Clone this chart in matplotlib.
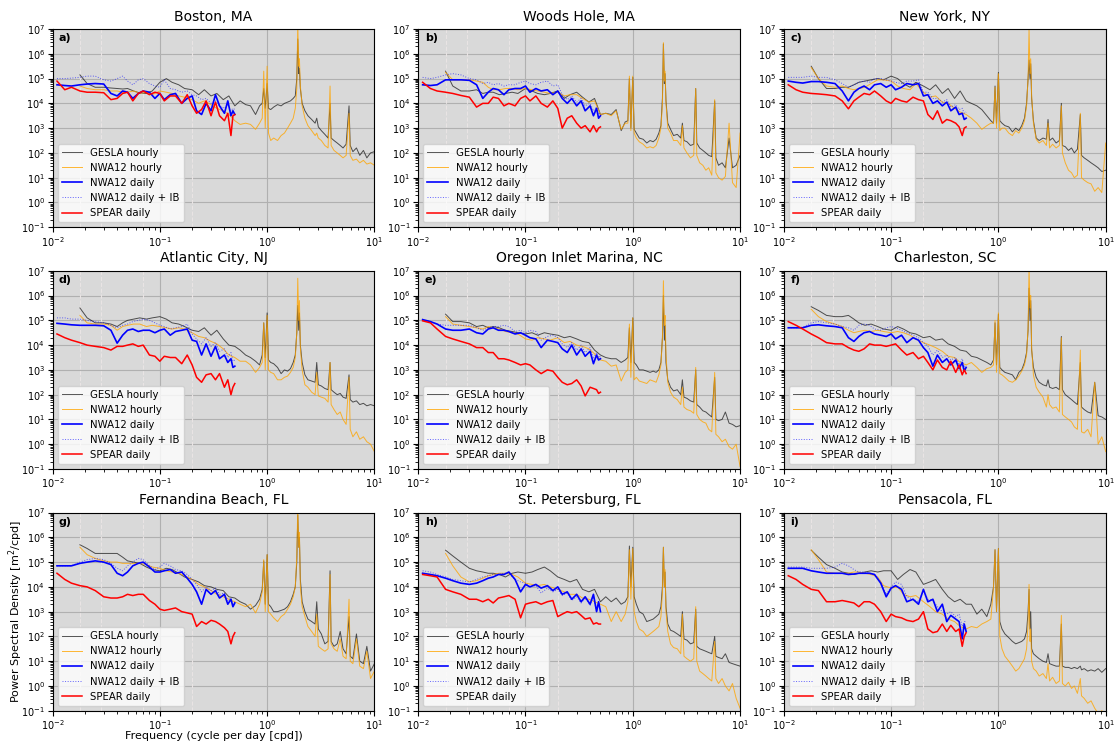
import numpy as np
import matplotlib.pyplot as plt
from matplotlib.ticker import LogLocator

# frequencies (cpd) for the hourly records and for the daily records
freq_hourly = [
    0.018, 0.021, 0.025, 0.03, 0.035, 0.04, 0.045, 0.05, 0.057, 0.065, 0.075, 0.085, 0.1, 0.115, 0.13,
    0.15, 0.17, 0.2, 0.23, 0.26, 0.3, 0.34, 0.39, 0.44, 0.5, 0.56, 0.63, 0.7, 0.78, 0.85,
    0.9, 0.93, 0.96, 1.0, 1.03, 1.08, 1.15, 1.25, 1.35, 1.45, 1.55, 1.65, 1.75, 1.83, 1.89,
    1.93, 1.97, 2.0, 2.04, 2.12, 2.25, 2.4, 2.6, 2.8, 2.9, 3.0, 3.2, 3.45, 3.7, 3.86,
    3.95, 4.2, 4.5, 4.8, 5.1, 5.45, 5.8, 5.95, 6.3, 6.8, 7.3, 7.9, 8.5, 9.2, 10.0]
freq_daily = [
    0.011, 0.013, 0.015, 0.018, 0.021, 0.025, 0.03, 0.035, 0.04, 0.045, 0.05, 0.056, 0.063, 0.07, 0.08, 0.09, 0.1,
    0.11, 0.125, 0.14, 0.16, 0.18, 0.2, 0.22, 0.245, 0.27, 0.3, 0.33, 0.36, 0.4, 0.43, 0.46, 0.48, 0.5]

# reference periods marked with dashed lines (cpd)
marked_freqs = [0.018, 0.0285, 0.07, 0.2]

stations = ['Boston, MA', 'Woods Hole, MA', 'New York, NY',
            'Atlantic City, NJ', 'Oregon Inlet Marina, NC', 'Charleston, SC',
            'Fernandina Beach, FL', 'St. Petersburg, FL', 'Pensacola, FL']
letters = ['a)', 'b)', 'c)', 'd)', 'e)', 'f)', 'g)', 'h)', 'i)']

# all PSD values below are log10(m^2/cpd)
# --- Boston
a_gesla = [
    5.15, 4.8, 4.65, 4.65, 4.62, 4.6, 4.58, 4.6, 4.5, 4.42, 4.4, 4.5, 4.85, 5.0, 4.85,
    4.75, 4.6, 4.55, 4.35, 4.55, 4.3, 4.4, 4.15, 4.3, 3.9, 4.1, 3.95, 3.9, 3.55, 3.9,
    4.0, 4.6, 3.8, 4.8, 3.8, 3.75, 3.85, 3.95, 3.9, 4.0, 4.05, 4.1, 4.2, 4.3, 5.0,
    6.6, 5.2, 5.4, 4.6, 4.0, 3.7, 3.5, 3.35, 3.2, 3.4, 3.05, 2.9, 2.75, 2.6, 4.0,
    2.6, 2.5, 2.4, 2.3, 2.2, 2.35, 3.9, 2.3, 2.05, 2.2, 1.9, 2.1, 1.8, 2.0, 2.05]
a_nwa_h = [
    4.7, 4.6, 4.55, 4.55, 4.5, 4.5, 4.45, 4.45, 4.5, 4.4, 4.45, 4.35, 4.5, 4.45, 4.4,
    4.3, 4.25, 4.15, 4.0, 4.1, 3.95, 3.8, 3.7, 3.55, 3.3, 3.15, 3.2, 3.15, 2.95, 3.2,
    3.4, 5.3, 3.0, 5.5, 2.8, 2.5, 2.6, 2.5, 2.7, 2.8, 3.0, 3.2, 3.4, 3.8, 4.6,
    7.2, 5.5, 5.8, 4.7, 3.9, 3.4, 3.1, 2.9, 2.7, 2.8, 2.6, 2.5, 2.3, 2.2, 4.7,
    2.3, 2.1, 2.0, 1.9, 1.8, 1.9, 3.6, 1.9, 1.7, 1.75, 1.6, 1.7, 1.55, 1.6, 1.5]
a_nwa_d = [
    4.75, 4.72, 4.7, 4.75, 4.78, 4.8, 4.78, 4.4, 4.3, 4.5, 4.45, 4.2, 4.4, 4.5, 4.45, 4.2, 4.4,
    4.15, 4.35, 4.4, 4.0, 4.2, 4.3, 3.7, 3.55, 4.0, 3.7, 4.35, 3.9, 3.6, 4.1, 3.5, 3.7, 3.55]
a_nwa_ib = [
    5.0, 5.0, 5.02, 5.05, 5.1, 5.1, 4.95, 4.9, 5.0, 5.1, 4.9, 4.75, 4.95, 5.0, 4.8, 4.7, 4.65,
    4.95, 4.6, 4.55, 4.45, 4.5, 4.35, 4.3, 4.15, 4.2, 4.0, 4.1, 3.9, 3.8, 3.95, 3.7, 3.8, 3.75]
a_spear = [
    4.9, 4.55, 4.65, 4.5, 4.45, 4.45, 4.43, 4.15, 4.2, 4.4, 4.45, 4.1, 4.4, 4.5, 4.35, 4.45, 4.4,
    4.1, 4.3, 4.3, 4.0, 4.35, 3.9, 3.6, 3.75, 4.1, 3.5, 4.05, 3.5, 3.3, 3.6, 2.7, 3.5, 3.55]

# --- Woods Hole
b_gesla = [
    5.3, 4.7, 4.5, 4.5, 4.55, 4.4, 4.45, 4.45, 4.35, 4.4, 4.45, 4.4, 4.6, 4.5, 4.4,
    4.35, 4.4, 4.5, 4.2, 4.35, 4.45, 4.25, 4.05, 4.2, 3.55, 3.6, 3.55, 3.75, 2.9, 3.25,
    3.3, 5.0, 3.0, 5.05, 2.95, 2.8, 2.6, 2.55, 2.4, 2.5, 2.45, 2.55, 2.8, 3.1, 4.2,
    6.4, 4.8, 5.2, 4.1, 3.2, 2.95, 2.7, 2.75, 2.6, 3.2, 2.5, 2.45, 2.3, 2.35, 4.6,
    2.4, 2.2, 2.1, 2.0, 1.9, 1.85, 4.1, 1.8, 1.5, 1.6, 1.4, 2.6, 1.4, 1.5, 1.9]
b_nwa_h = [
    5.25, 4.95, 4.95, 4.95, 4.9, 4.85, 4.65, 4.55, 4.55, 4.6, 4.6, 4.55, 4.6, 4.55, 4.5,
    4.45, 4.4, 4.45, 4.3, 4.35, 4.35, 4.2, 4.05, 4.1, 3.55, 3.6, 3.5, 3.7, 2.95, 3.2,
    3.2, 5.1, 2.9, 5.1, 2.8, 2.6, 2.45, 2.35, 2.2, 2.25, 2.2, 2.3, 2.6, 3.0, 4.0,
    6.45, 4.9, 5.3, 4.0, 3.0, 2.8, 2.5, 2.5, 2.3, 3.1, 2.2, 2.0, 1.8, 1.9, 4.6,
    1.9, 1.6, 1.5, 1.3, 1.4, 1.1, 4.15, 1.2, 1.0, 0.9, 1.05, 3.2, 0.8, 0.6, 2.8]
b_nwa_d = [
    4.75, 4.72, 4.75, 4.95, 4.95, 4.95, 4.93, 4.75, 4.2, 4.45, 4.6, 4.55, 4.35, 4.55, 4.6, 4.6, 4.7,
    4.45, 4.6, 4.5, 4.55, 4.35, 4.5, 4.2, 4.0, 4.2, 3.9, 4.1, 3.7, 3.9, 3.5, 3.8, 3.4, 3.5]
b_nwa_ib = [
    5.05, 5.0, 5.05, 5.15, 5.2, 5.15, 5.0, 4.95, 4.8, 4.85, 4.75, 4.8, 4.7, 4.75, 4.75, 4.85, 4.9,
    4.8, 4.75, 4.85, 4.9, 4.7, 4.75, 4.35, 4.15, 4.3, 4.05, 4.2, 3.9, 4.0, 3.7, 3.85, 3.55, 3.6]
b_spear = [
    4.85, 4.6, 4.5, 4.45, 4.4, 4.32, 4.25, 3.85, 4.0, 4.0, 4.25, 4.2, 3.9, 4.0, 3.9, 4.2, 4.3,
    4.1, 4.3, 4.0, 3.85, 4.1, 3.8, 3.0, 3.4, 3.5, 3.2, 3.0, 3.1, 2.85, 3.1, 2.85, 3.0, 3.05]

# --- New York
c_gesla = [
    5.5, 5.0, 4.6, 4.6, 4.65, 4.65, 4.75, 4.85, 4.9, 4.95, 5.0, 4.95, 5.1, 5.0, 4.8,
    4.65, 4.85, 4.7, 4.55, 4.75, 4.4, 4.6, 4.2, 4.5, 4.1, 4.0, 3.9, 3.75, 3.5, 3.3,
    3.2, 4.7, 3.2, 5.25, 3.3, 3.2, 3.1, 3.05, 2.85, 3.0, 2.9, 3.1, 3.4, 4.0, 5.0,
    5.75, 5.0, 5.6, 4.2, 3.3, 2.6, 2.5, 2.6, 2.55, 3.35, 2.5, 2.6, 2.4, 2.5, 4.0,
    2.3, 2.25, 2.1, 2.2, 2.0, 2.15, 3.55, 1.9, 1.8, 1.7, 1.6, 1.5, 1.4, 1.25, 1.3]
c_nwa_h = [
    5.45, 5.0, 4.7, 4.65, 4.7, 4.6, 4.55, 4.6, 4.65, 4.8, 4.95, 4.95, 4.9, 4.7, 4.6,
    4.55, 4.8, 4.45, 4.25, 4.3, 4.05, 4.0, 3.8, 3.65, 3.55, 3.4, 3.2, 2.95, 3.1, 3.2,
    3.2, 4.65, 3.0, 5.2, 2.9, 3.0, 3.0, 2.8, 2.7, 2.9, 2.8, 3.0, 3.3, 3.9, 5.0,
    7.0, 5.2, 5.8, 4.3, 3.2, 2.55, 2.4, 2.5, 2.3, 3.2, 2.2, 2.35, 2.2, 2.3, 3.9,
    2.0, 1.6, 1.3, 1.2, 1.0, 1.1, 3.6, 1.0, 0.9, 0.8, 0.75, 0.45, 0.6, 0.4, 2.4]
c_nwa_d = [
    4.9, 4.85, 4.82, 4.88, 4.88, 4.85, 4.8, 4.5, 4.1, 4.45, 4.6, 4.7, 4.55, 4.75, 4.8, 4.65, 4.75,
    4.55, 4.65, 4.8, 4.75, 4.8, 4.3, 4.35, 4.0, 4.1, 3.9, 4.05, 3.7, 3.85, 3.55, 3.6, 3.35, 3.4]
c_nwa_ib = [
    5.05, 5.05, 5.05, 5.1, 5.05, 5.05, 4.95, 4.8, 4.65, 4.75, 4.85, 4.9, 4.85, 5.0, 5.0, 4.95, 4.9,
    4.85, 4.8, 4.9, 4.9, 4.95, 4.45, 4.45, 4.2, 4.2, 4.05, 4.15, 3.85, 3.95, 3.75, 3.8, 3.6, 3.65]
c_spear = [
    4.75, 4.55, 4.45, 4.4, 4.38, 4.35, 4.3, 4.1, 3.78, 4.1, 4.25, 4.4, 4.35, 4.5, 4.3, 4.1, 4.0,
    4.2, 4.1, 4.05, 4.25, 4.15, 4.1, 3.55, 3.35, 3.7, 3.2, 3.35, 3.3, 3.2, 3.05, 2.7, 3.0, 3.05]

# --- Atlantic City
d_gesla = [
    5.5, 5.1, 4.9, 4.9, 4.85, 4.75, 4.9, 5.0, 5.05, 5.1, 5.05, 5.1, 5.15, 5.05, 4.9,
    4.85, 4.75, 4.6, 4.55, 4.7, 4.4, 4.6, 4.25, 4.0, 3.95, 3.8, 3.6, 3.5, 3.35, 3.2,
    3.6, 4.9, 3.5, 5.3, 3.4, 3.3, 3.25, 3.1, 2.85, 3.0, 2.95, 3.05, 3.3, 3.6, 4.5,
    5.6, 4.6, 5.3, 4.0, 3.3, 2.8, 2.6, 2.55, 2.5, 3.3, 2.4, 2.35, 2.25, 2.2, 3.3,
    2.2, 2.1, 2.0, 2.05, 1.9, 1.85, 2.8, 1.8, 1.7, 1.75, 1.6, 1.65, 1.55, 1.6, 1.55]
d_nwa_h = [
    5.2, 4.9, 4.85, 4.85, 4.8, 4.6, 4.75, 4.8, 4.85, 4.85, 4.75, 4.8, 4.75, 4.7, 4.65,
    4.7, 4.65, 4.5, 4.35, 4.3, 4.15, 4.05, 3.85, 3.6, 3.5, 3.35, 3.35, 3.2, 2.9, 3.1,
    3.3, 4.9, 3.0, 5.2, 3.0, 2.9, 2.85, 2.6, 2.6, 2.7, 2.75, 2.9, 3.1, 3.5, 4.5,
    6.7, 5.0, 5.8, 3.9, 3.0, 2.4, 2.3, 2.1, 2.0, 2.9, 1.95, 1.9, 1.85, 1.7, 3.3,
    1.6, 1.4, 1.2, 1.3, 1.0, 0.8, 2.7, 0.6, 0.3, 0.5, 0.2, 0.3, 0.1, 0.0, -0.3]
d_nwa_d = [
    4.88, 4.85, 4.82, 4.8, 4.8, 4.8, 4.78, 4.6, 4.08, 4.4, 4.6, 4.65, 4.55, 4.6, 4.6, 4.5, 4.6,
    4.65, 4.4, 4.55, 4.6, 4.65, 4.2, 4.15, 3.6, 4.05, 3.55, 3.95, 3.45, 3.6, 3.3, 3.45, 3.1, 3.15]
d_nwa_ib = [
    5.1, 5.1, 5.05, 5.05, 5.0, 4.95, 4.9, 4.8, 4.7, 4.8, 4.85, 4.95, 5.0, 5.05, 5.0, 4.9, 4.8,
    4.75, 4.65, 4.7, 4.75, 4.85, 4.45, 4.25, 4.05, 4.3, 3.95, 4.1, 3.75, 3.85, 3.5, 3.7, 3.35, 3.4]
d_spear = [
    4.45, 4.3, 4.2, 4.1, 4.0, 3.95, 3.9, 3.8, 3.95, 3.95, 4.0, 4.05, 3.95, 4.0, 3.6, 3.55, 3.35,
    3.55, 3.5, 3.5, 3.25, 3.6, 3.2, 2.7, 2.5, 2.8, 2.85, 2.6, 2.85, 2.3, 2.6, 2.0, 2.3, 2.45]

# --- Oregon Inlet Marina
e_gesla = [
    5.25, 4.95, 4.95, 4.9, 4.75, 4.8, 4.7, 4.75, 4.7, 4.6, 4.55, 4.5, 4.45, 4.5, 4.4,
    4.5, 4.45, 4.4, 4.3, 4.35, 4.25, 4.15, 4.1, 3.8, 3.6, 3.5, 3.45, 3.45, 3.3, 3.4,
    3.5, 4.7, 3.3, 5.1, 3.3, 3.2, 3.0, 3.0, 2.95, 2.9, 2.95, 2.9, 3.0, 3.3, 4.3,
    6.0, 4.2, 4.8, 3.3, 2.6, 2.3, 2.15, 2.2, 2.0, 2.6, 1.9, 1.85, 1.75, 1.7, 3.0,
    1.6, 1.5, 1.35, 1.3, 1.2, 1.1, 2.7, 1.0, 0.95, 1.0, 1.3, 0.85, 0.8, 0.7, 0.75]
e_nwa_h = [
    5.15, 4.85, 4.8, 4.75, 4.7, 4.65, 4.75, 4.7, 4.65, 4.55, 4.5, 4.45, 4.25, 4.2, 4.3,
    4.25, 4.2, 4.3, 4.1, 4.15, 4.0, 3.95, 3.85, 3.65, 3.4, 3.35, 3.15, 3.2, 2.55, 2.9,
    3.0, 4.85, 2.7, 5.1, 2.6, 2.7, 2.55, 2.5, 2.45, 2.6, 2.55, 2.5, 2.8, 3.2, 4.3,
    6.6, 4.8, 5.2, 3.6, 2.5, 2.1, 1.9, 1.8, 1.6, 2.3, 1.5, 1.4, 1.35, 1.25, 3.1,
    1.2, 1.0, 0.9, 0.85, 0.6, 0.5, 2.9, 0.4, 0.3, 0.1, 0.2, -0.1, -0.2, 0.0, -0.9]
e_nwa_d = [
    5.03, 4.95, 4.85, 4.65, 4.6, 4.6, 4.65, 4.5, 4.45, 4.65, 4.7, 4.6, 4.6, 4.55, 4.45, 4.5, 4.4,
    4.3, 4.25, 3.9, 4.2, 4.15, 4.1, 3.85, 3.7, 4.0, 3.6, 3.85, 3.55, 3.75, 3.25, 3.6, 3.4, 3.45]
e_nwa_ib = [
    5.02, 4.95, 4.85, 4.8, 4.8, 4.8, 4.8, 4.7, 4.6, 4.7, 4.75, 4.75, 4.8, 4.75, 4.55, 4.6, 4.5,
    4.6, 4.55, 4.2, 4.35, 4.4, 4.3, 4.05, 3.9, 4.1, 3.8, 4.0, 3.7, 3.9, 3.45, 3.7, 3.5, 3.55]
e_spear = [
    4.98, 4.9, 4.65, 4.35, 4.25, 4.15, 4.05, 3.9, 3.9, 3.7, 3.7, 3.45, 3.45, 3.4, 3.3, 3.2, 3.25,
    3.2, 3.0, 2.85, 3.0, 2.95, 2.7, 2.5, 2.4, 2.45, 2.6, 2.35, 1.95, 2.3, 2.25, 2.2, 2.05, 2.1]

# --- Charleston
f_gesla = [
    5.55, 5.4, 5.2, 5.15, 5.15, 5.2, 5.05, 4.9, 4.8, 4.85, 4.75, 4.65, 4.6, 4.75, 4.65,
    4.5, 4.45, 4.3, 4.35, 4.2, 4.25, 4.05, 3.95, 3.8, 3.75, 3.55, 3.5, 3.4, 3.3, 3.2,
    3.4, 4.9, 3.2, 5.25, 3.1, 3.0, 2.9, 2.85, 2.8, 2.6, 2.9, 3.0, 3.3, 3.7, 4.6,
    6.3, 5.0, 5.8, 3.8, 3.1, 2.7, 2.5, 2.4, 2.35, 2.6, 2.3, 2.25, 2.3, 2.2, 4.35,
    2.2, 2.0, 1.9, 1.8, 1.7, 1.6, 3.3, 1.5, 1.4, 1.3, 1.25, 2.5, 1.15, 1.1, 1.0]
f_nwa_h = [
    5.45, 5.15, 4.95, 4.85, 4.75, 4.6, 4.5, 4.55, 4.6, 4.55, 4.6, 4.55, 4.5, 4.55, 4.5,
    4.4, 4.25, 4.1, 4.0, 3.9, 3.75, 3.55, 3.5, 3.3, 3.2, 3.3, 3.1, 2.9, 3.05, 3.1,
    3.2, 5.0, 2.9, 5.3, 2.85, 2.8, 2.7, 2.55, 2.5, 2.6, 2.75, 2.95, 3.2, 3.6, 4.7,
    7.1, 5.5, 6.0, 3.9, 2.8, 2.3, 2.1, 1.9, 1.5, 2.0, 1.6, 1.45, 1.5, 1.3, 4.3,
    1.2, 1.1, 1.0, 0.9, 0.7, 0.6, 3.8, 0.5, 0.45, 0.6, 0.3, 2.5, 0.0, 0.3, -0.3]
f_nwa_d = [
    4.7, 4.7, 4.7, 4.8, 4.82, 4.78, 4.75, 4.7, 4.3, 4.15, 4.35, 4.5, 4.55, 4.45, 4.4, 4.35, 4.45,
    4.25, 4.4, 4.1, 4.3, 4.2, 3.9, 3.7, 3.15, 3.6, 3.3, 3.45, 3.2, 3.4, 3.05, 3.3, 2.95, 3.1]
f_nwa_ib = [
    4.7, 4.7, 4.72, 4.9, 4.95, 4.9, 4.85, 4.75, 4.7, 4.6, 4.8, 4.85, 4.8, 4.65, 4.6, 4.7, 4.75,
    4.7, 4.6, 4.5, 4.4, 4.3, 4.1, 3.95, 3.6, 3.8, 3.5, 3.6, 3.4, 3.5, 3.2, 3.45, 3.1, 3.2]
f_spear = [
    4.95, 4.8, 4.65, 4.45, 4.3, 4.1, 4.05, 4.05, 3.9, 3.8, 3.75, 3.85, 4.05, 4.0, 4.0, 3.95, 4.0,
    4.05, 3.8, 3.6, 3.7, 3.45, 3.55, 3.3, 3.0, 3.4, 3.1, 3.0, 3.35, 2.9, 3.2, 2.8, 3.0, 2.85]

# --- Fernandina Beach
g_gesla = [
    5.7, 5.55, 5.35, 5.35, 5.35, 5.35, 5.2, 5.05, 5.0, 4.95, 4.8, 4.7, 4.65, 4.75, 4.7,
    4.55, 4.4, 4.3, 4.2, 4.05, 4.0, 3.9, 3.85, 3.6, 3.55, 3.4, 3.3, 3.1, 3.25, 3.5,
    3.9, 5.05, 3.3, 5.3, 3.3, 3.2, 3.0, 3.0, 3.05, 3.1, 3.2, 3.4, 3.7, 4.0, 5.0,
    6.9, 5.6, 6.0, 4.3, 3.4, 3.0, 2.7, 2.6, 2.5, 3.4, 2.3, 2.1, 1.7, 1.8, 4.65,
    1.8, 1.6, 1.7, 2.2, 1.5, 1.3, 2.8, 1.2, 1.1, 2.1, 1.0, 0.9, 1.6, 0.6, 0.9]
g_nwa_h = [
    5.6, 5.3, 5.15, 5.05, 5.0, 5.0, 4.95, 4.95, 4.95, 4.95, 4.9, 4.8, 4.75, 4.65, 4.6,
    4.55, 4.45, 4.3, 4.1, 4.0, 3.85, 3.7, 3.6, 3.5, 3.4, 3.3, 3.2, 3.3, 2.95, 3.3,
    3.8, 5.1, 3.0, 5.3, 3.0, 2.9, 2.75, 2.6, 2.8, 2.9, 3.1, 3.3, 3.6, 4.0, 5.2,
    7.2, 5.6, 6.2, 4.0, 3.2, 2.8, 2.4, 2.2, 2.0, 2.9, 1.6, 1.5, 1.4, 1.5, 4.5,
    1.7, 1.5, 1.4, 1.9, 1.2, 1.1, 3.5, 1.0, 0.9, 1.9, 0.8, 0.7, 1.4, 0.3, 0.6]
g_nwa_d = [
    4.85, 4.85, 4.85, 4.95, 5.0, 5.05, 5.0, 4.9, 4.55, 4.45, 4.6, 4.85, 4.95, 5.0, 4.8, 4.6, 4.6,
    4.65, 4.7, 4.55, 4.6, 4.35, 4.1, 3.8, 3.3, 3.9, 3.7, 3.85, 3.55, 3.7, 3.3, 3.5, 3.2, 3.35]
g_nwa_ib = [
    4.85, 4.85, 4.85, 5.0, 5.1, 5.15, 5.1, 4.95, 4.75, 4.65, 4.85, 5.0, 5.15, 5.1, 4.85, 4.7, 4.8,
    4.95, 4.85, 4.7, 4.65, 4.5, 4.3, 4.1, 3.8, 4.0, 3.85, 3.95, 3.7, 3.75, 3.45, 3.55, 3.3, 3.4]
g_spear = [
    4.55, 4.3, 4.15, 4.05, 4.0, 3.85, 3.6, 3.55, 3.55, 3.6, 3.7, 3.65, 3.7, 3.7, 3.45, 3.3, 3.1,
    3.05, 3.1, 3.15, 3.0, 2.95, 2.9, 2.4, 2.6, 2.5, 2.65, 2.6, 2.5, 2.35, 2.2, 1.7, 2.0, 2.15]

# --- St. Petersburg
h_gesla = [
    5.48, 5.25, 5.0, 4.75, 4.65, 4.6, 4.55, 4.55, 4.5, 4.4, 4.55, 4.6, 4.55, 4.6, 4.7,
    4.8, 4.65, 4.4, 4.3, 4.2, 4.3, 3.9, 3.8, 3.9, 3.4, 3.6, 3.4, 3.55, 3.3, 3.4,
    3.6, 5.65, 4.0, 5.6, 3.6, 3.3, 3.0, 2.9, 2.6, 2.65, 2.7, 2.8, 2.9, 3.2, 4.0,
    5.6, 4.0, 4.6, 3.2, 2.5, 2.25, 2.2, 2.1, 2.0, 3.0, 1.9, 1.85, 1.7, 1.75, 3.1,
    1.6, 1.5, 1.45, 1.4, 1.35, 1.3, 2.0, 1.2, 1.15, 1.1, 1.3, 0.95, 0.9, 0.85, 0.8]
h_nwa_h = [
    5.35, 4.85, 4.4, 4.2, 4.25, 4.35, 4.45, 4.5, 4.55, 4.55, 4.5, 4.4, 4.15, 4.1, 4.05,
    4.1, 4.0, 3.9, 3.8, 3.7, 3.7, 3.55, 3.5, 3.4, 3.3, 3.2, 2.6, 3.0, 2.6, 2.9,
    3.4, 5.5, 3.5, 5.55, 3.0, 2.6, 2.3, 2.2, 2.0, 2.1, 2.2, 2.3, 2.4, 2.8, 3.8,
    5.6, 4.0, 4.7, 3.0, 2.2, 1.7, 1.55, 1.5, 1.3, 2.9, 1.2, 1.1, 1.0, 1.1, 3.2,
    1.0, 0.6, 0.5, 0.4, 0.3, 0.2, 1.8, 0.3, 0.1, 0.3, 0.0, -0.2, 0.1, -0.5, -0.9]
h_nwa_d = [
    4.55, 4.5, 4.45, 4.35, 4.25, 4.15, 4.1, 4.15, 4.25, 4.35, 4.4, 4.5, 4.5, 4.6, 4.3, 3.8, 4.1,
    4.0, 4.1, 3.95, 4.05, 3.85, 4.0, 3.7, 3.8, 3.5, 3.7, 3.4, 3.6, 3.3, 3.7, 3.0, 3.4, 3.0]
h_nwa_ib = [
    4.65, 4.6, 4.5, 4.4, 4.3, 4.25, 4.2, 4.3, 4.4, 4.45, 4.5, 4.5, 4.55, 4.55, 4.3, 4.2, 4.15,
    4.0, 4.05, 3.75, 3.95, 3.8, 3.9, 3.65, 3.75, 3.45, 3.6, 3.35, 3.55, 3.25, 3.6, 3.0, 3.3, 3.0]
h_spear = [
    4.5, 4.45, 4.4, 3.9, 3.8, 3.7, 3.5, 3.5, 3.4, 3.5, 3.35, 3.55, 3.6, 3.65, 3.5, 2.75, 3.3,
    3.35, 3.4, 3.3, 3.4, 3.45, 2.8, 2.9, 3.0, 2.95, 3.0, 2.85, 2.7, 2.75, 2.5, 2.55, 2.5, 2.5]

# --- Pensacola
i_gesla = [
    5.48, 5.2, 4.9, 4.75, 4.6, 4.55, 4.5, 4.55, 4.6, 4.65, 4.6, 4.65, 4.65, 4.3, 4.5,
    4.7, 4.6, 4.1, 4.2, 4.3, 3.9, 3.6, 3.4, 3.5, 3.3, 3.3, 2.9, 3.1, 2.8, 3.3,
    4.0, 5.5, 3.0, 5.55, 2.6, 2.3, 2.1, 1.95, 1.8, 1.7, 1.75, 1.8, 1.9, 2.2, 3.0,
    3.9, 2.3, 3.0, 1.5, 1.3, 1.2, 1.1, 1.0, 0.95, 1.3, 0.9, 0.85, 0.8, 0.8, 2.5,
    0.8, 0.75, 0.75, 0.7, 0.75, 0.7, 0.8, 0.65, 0.7, 0.6, 0.65, 0.6, 0.7, 0.55, 0.7]
i_nwa_h = [
    5.5, 5.1, 4.6, 4.55, 4.55, 4.55, 4.6, 4.6, 4.55, 4.5, 4.4, 4.05, 3.95, 4.0, 3.7,
    3.6, 3.65, 3.4, 3.2, 3.0, 2.9, 2.7, 2.6, 2.4, 2.3, 2.4, 2.35, 2.5, 2.6, 2.7,
    4.0, 5.5, 3.0, 5.55, 2.0, 1.5, 1.2, 1.0, 0.8, 0.6, 0.7, 0.9, 1.1, 1.5, 2.5,
    4.1, 1.8, 2.3, 1.0, 0.7, 0.6, 0.4, 0.5, 0.3, 0.9, 0.2, 0.35, 0.1, 0.2, 2.85,
    0.1, 0.0, 0.15, -0.1, 0.0, -0.3, 0.3, -0.4, -0.5, -0.7, -0.6, -0.9, -1.1, -1.0, -1.2]
i_nwa_d = [
    4.75, 4.75, 4.75, 4.65, 4.6, 4.55, 4.55, 4.55, 4.5, 4.52, 4.55, 4.55, 4.55, 4.5, 4.15, 3.6, 3.95,
    4.05, 3.9, 3.4, 3.5, 3.3, 3.9, 3.4, 3.5, 3.0, 3.3, 2.6, 2.85, 2.7, 2.6, 1.9, 2.5, 2.2]
i_nwa_ib = [
    4.8, 4.8, 4.8, 4.75, 4.75, 4.75, 4.8, 4.95, 4.85, 4.7, 4.6, 4.6, 4.55, 4.5, 4.2, 3.7, 4.0,
    4.2, 4.1, 3.6, 3.5, 3.4, 3.85, 3.5, 3.45, 3.2, 3.0, 2.9, 3.0, 2.8, 2.9, 2.4, 2.6, 2.6]
i_spear = [
    4.45, 4.3, 4.1, 3.9, 3.85, 3.4, 3.4, 3.45, 3.4, 3.35, 3.2, 3.4, 3.4, 3.3, 3.0, 2.6, 2.9,
    2.8, 2.75, 2.65, 2.6, 2.7, 3.0, 2.3, 2.15, 2.2, 2.5, 2.2, 2.45, 2.2, 2.3, 1.6, 2.0, 2.15]

gesla = [a_gesla, b_gesla, c_gesla, d_gesla, e_gesla, f_gesla, g_gesla, h_gesla, i_gesla]
nwa_h = [a_nwa_h, b_nwa_h, c_nwa_h, d_nwa_h, e_nwa_h, f_nwa_h, g_nwa_h, h_nwa_h, i_nwa_h]
nwa_d = [a_nwa_d, b_nwa_d, c_nwa_d, d_nwa_d, e_nwa_d, f_nwa_d, g_nwa_d, h_nwa_d, i_nwa_d]
nwa_ib = [a_nwa_ib, b_nwa_ib, c_nwa_ib, d_nwa_ib, e_nwa_ib, f_nwa_ib, g_nwa_ib, h_nwa_ib, i_nwa_ib]
spear = [a_spear, b_spear, c_spear, d_spear, e_spear, f_spear, g_spear, h_spear, i_spear]

fig, axes = plt.subplots(3, 3, figsize=(11.18, 7.45), dpi=100)
fig.subplots_adjust(left=0.047, right=0.989, top=0.961, bottom=0.046, wspace=0.136, hspace=0.22)

for k, ax in enumerate(axes.flat):
    ax.set_facecolor('#d9d9d9')
    for f in marked_freqs:
        ax.axvline(f, color='#e9e4e4', ls='--', lw=0.8, zorder=0.6)
    ax.loglog(freq_hourly, np.power(10.0, gesla[k]), color='k', lw=0.7, alpha=0.65, label='GESLA hourly')
    ax.loglog(freq_hourly, np.power(10.0, nwa_h[k]), color='orange', lw=0.7, alpha=0.8, label='NWA12 hourly')
    ax.loglog(freq_daily, np.power(10.0, nwa_d[k]), color='b', lw=1.2, label='NWA12 daily')
    ax.loglog(freq_daily, np.power(10.0, nwa_ib[k]), color='b', ls=':', lw=0.7, alpha=0.6, label='NWA12 daily + IB')
    ax.loglog(freq_daily, np.power(10.0, spear[k]), color='r', lw=1.1, label='SPEAR daily')

    ax.set_xlim(1e-2, 1e1)
    ax.set_ylim(1e-1, 1e7)
    ax.yaxis.set_major_locator(LogLocator(base=10, numticks=12))
    ax.yaxis.set_minor_locator(LogLocator(base=10, subs=np.arange(2, 10), numticks=12))
    ax.grid(True, which='major', color='#b0b0b0', lw=0.8)
    ax.set_axisbelow(True)
    ax.tick_params(labelsize=7, pad=2)
    ax.set_title(stations[k], fontsize=10)
    ax.text(0.02, 0.98, letters[k], transform=ax.transAxes, fontsize=8, fontweight='bold', va='top', ha='left')
    ax.legend(loc='lower left', fontsize=7.3)

# axis labels only on the lower-left panel
axes[2, 0].set_ylabel('Power Spectral Density [m$^2$/cpd]', fontsize=8)
axes[2, 0].set_xlabel('Frequency (cycle per day [cpd])', fontsize=8)
axes[2, 0].yaxis.set_label_coords(-0.085, 0.5)
axes[2, 0].xaxis.set_label_coords(0.5, -0.1)

fig.savefig('out.png', dpi=100)
